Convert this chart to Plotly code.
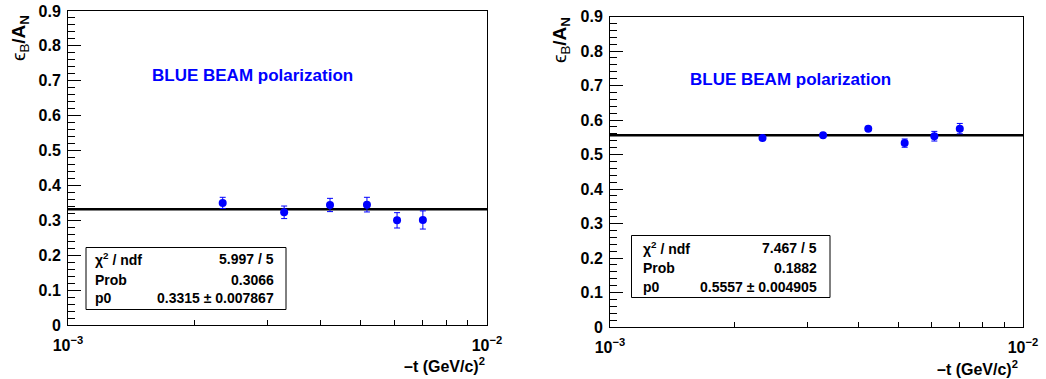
import plotly.graph_objects as go

W, H = 1046, 379

# ---- data ----
t_vals = [0.00234, 0.00328, 0.00422, 0.00517, 0.00610, 0.00703]
left_ratio = [0.350, 0.323, 0.344, 0.345, 0.300, 0.301]
left_err = [0.016, 0.018, 0.019, 0.021, 0.022, 0.026]
right_ratio = [0.548, 0.556, 0.575, 0.533, 0.553, 0.575]
right_err = [0.004, 0.004, 0.005, 0.012, 0.014, 0.015]
fit_p0 = [0.3315, 0.5557]
stats_left = [("χ<sup>2</sup> / ndf", "5.997 / 5"), ("Prob", "0.3066"), ("p0", "0.3315 ± 0.007867")]
stats_right = [("χ<sup>2</sup> / ndf", "7.467 / 5"), ("Prob", "0.1882"), ("p0", "0.5557 ± 0.004905")]
x_ticks = [0.001, 0.002, 0.003, 0.004, 0.005, 0.006, 0.007, 0.008, 0.009, 0.01]
x_ticktext = ["<b>10<sup>−3</sup></b>", "", "", "", "", "", "", "", "", "<b>10<sup>−2</sup></b>"]
y_ticks = [0, 0.1, 0.2, 0.3, 0.4, 0.5, 0.6, 0.7, 0.8, 0.9]
y_ticktext = ["<b>0</b>", "<b>0.1</b>", "<b>0.2</b>", "<b>0.3</b>", "<b>0.4</b>",
              "<b>0.5</b>", "<b>0.6</b>", "<b>0.7</b>", "<b>0.8</b>", "<b>0.9</b>"]

FONT = "Liberation Sans, Arial, Helvetica, sans-serif"
BLUE = "#0000ff"


def px(x):
    return x / W


def py(y):
    return 1 - y / H


panels = [
    dict(xd=[px(68), px(487)], yd=[py(325), py(11)], y=left_ratio, e=left_err, p0=fit_p0[0],
         stats=stats_left, box=(86, 247.5, 286, 309.5), lab_x=93, val_x=276, rows=[259, 280, 298],
         title_xy=(252, 75), ytitle_xy=(20, 38), xtitle_xy=(487, 365)),
    dict(xd=[px(610), px(1023)], yd=[py(327), py(16.5)], y=right_ratio, e=right_err, p0=fit_p0[1],
         stats=stats_right, box=(631.5, 235.5, 830, 297.5), lab_x=641, val_x=819, rows=[247.5, 267.5, 286.5],
         title_xy=(791, 80), ytitle_xy=(561, 40), xtitle_xy=(1020, 368)),
]

fig = go.Figure()
shapes = []
annotations = []

for i, p in enumerate(panels):
    xa = "x" if i == 0 else "x2"
    ya = "y" if i == 0 else "y2"
    # fit line
    fig.add_trace(go.Scatter(x=[x_ticks[0], x_ticks[-1]], y=[p["p0"], p["p0"]], mode="lines",
                             line=dict(color="black", width=2.5), xaxis=xa, yaxis=ya,
                             showlegend=False, hoverinfo="skip"))
    # data points
    fig.add_trace(go.Scatter(x=t_vals, y=p["y"], mode="markers",
                             marker=dict(color=BLUE, size=8, symbol="circle"),
                             error_y=dict(type="data", array=p["e"], color=BLUE, thickness=1, width=3),
                             xaxis=xa, yaxis=ya, showlegend=False))
    axis_common = dict(showline=True, linecolor="black", linewidth=1, mirror=True, automargin=False,
                       showgrid=False, zeroline=False, ticks="inside", tickcolor="black",
                       tickfont=dict(family=FONT, size=16, color="black"))
    fig.update_layout(**{
        ("xaxis" if i == 0 else "xaxis2"): dict(
            domain=p["xd"], anchor=ya, type="log", range=[-3, -2],
            tickmode="array", tickvals=x_ticks, ticktext=x_ticktext, ticklen=5,
            ticklabelstandoff=6, **axis_common),
        ("yaxis" if i == 0 else "yaxis2"): dict(
            domain=p["yd"], anchor=xa, range=[0, 0.9],
            tickmode="array", tickvals=y_ticks, ticktext=y_ticktext, ticklen=13,
            ticklabelstandoff=3,
            minor=dict(ticks="inside", ticklen=7, dtick=0.02, tick0=0, tickcolor="black"),
            **axis_common),
    })
    # stats box
    x0, y0, x1, y1 = p["box"]
    shapes.append(dict(type="rect", xref="paper", yref="paper", x0=px(x0), x1=px(x1),
                       y0=py(y1), y1=py(y0), line=dict(color="black", width=1), fillcolor="white",
                       layer="above"))
    for (lab, val), ry in zip(p["stats"], p["rows"]):
        annotations.append(dict(xref="paper", yref="paper", x=px(p["lab_x"]), y=py(ry),
                                text="<b>" + lab + "</b>",
                                xanchor="left", yanchor="middle", showarrow=False,
                                font=dict(family=FONT, size=14, color="black")))
        annotations.append(dict(xref="paper", yref="paper", x=px(p["val_x"]), y=py(ry),
                                text="<b>" + val + "</b>",
                                xanchor="right", yanchor="middle", showarrow=False,
                                font=dict(family=FONT, size=14, color="black")))
    # in-plot title
    tx, ty = p["title_xy"]
    annotations.append(dict(xref="paper", yref="paper", x=px(tx), y=py(ty),
                            text="<b>BLUE BEAM polarization</b>", showarrow=False,
                            xanchor="center", yanchor="middle",
                            font=dict(family=FONT, size=17, color=BLUE)))
    # y title
    yx, yy = p["ytitle_xy"]
    annotations.append(dict(xref="paper", yref="paper", x=px(yx), y=py(yy),
                            text="ϵ<sub>B</sub><b>/A</b><sub><b>N</b></sub>", textangle=-90,
                            showarrow=False, xanchor="center", yanchor="middle",
                            font=dict(family=FONT, size=19, color="black")))
    # x title
    xx, xy = p["xtitle_xy"]
    annotations.append(dict(xref="paper", yref="paper", x=px(xx), y=py(xy),
                            text="<b>–t (GeV/c)<sup>2</sup></b>", showarrow=False,
                            xanchor="right", yanchor="middle",
                            font=dict(family=FONT, size=16, color="black")))

fig.update_layout(width=W, height=H, margin=dict(l=0, r=0, t=0, b=0),
                  paper_bgcolor="white", plot_bgcolor="white",
                  shapes=shapes, annotations=annotations, showlegend=False)

fig.write_html("out.html")
